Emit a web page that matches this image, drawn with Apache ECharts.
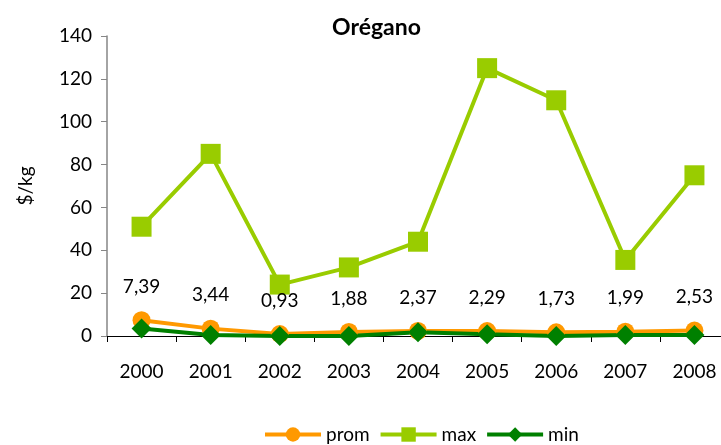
<!DOCTYPE html>
<html>
<head>
<meta charset="utf-8">
<script src="https://cdn.jsdelivr.net/npm/echarts@6/dist/echarts.min.js"></script>
<style>
  html, body { margin: 0; padding: 0; background: #fff; }
  #chart { width: 721px; height: 445px; }
</style>
</head>
<body>
<div id="chart"></div>
<script>
var years = ['2000', '2001', '2002', '2003', '2004', '2005', '2006', '2007', '2008'];
var prom = [7.39, 3.44, 0.93, 1.88, 2.37, 2.29, 1.73, 1.99, 2.53];
var max = [51, 85, 24, 32, 44, 125, 110, 35.5, 75];
var min = [3.5, 0.5, 0, 0, 1.8, 0.8, 0, 0.5, 0.5];

var font = 'Lato, "Open Sans", sans-serif';

var option = {
    animation: false,
    textStyle: {fontFamily: font},
    title: {
        text: 'Orégano',
        left: 327,
        top: 11,
        textStyle: {fontSize: 23, fontWeight: 'bold', color: '#000', fontFamily: font}
    },
    legend: {
        top: 420,
        left: 258,
        itemWidth: 56,
        itemHeight: 18,
        itemGap: 9,
        lineStyle: {width: 4},
        textStyle: {fontSize: 19, color: '#000', fontFamily: font},
        data: ['prom', 'max', 'min']
    },
    grid: {left: 107, right: -8, top: 36, bottom: 109, outerBoundsMode: 'none'},
    xAxis: {
        type: 'category',
        data: years,
        boundaryGap: true,
        axisLine: {lineStyle: {color: '#000', width: 1}},
        axisTick: {show: true, length: 6, lineStyle: {color: '#000'}},
        axisLabel: {fontSize: 19, color: '#000', margin: 26}
    },
    yAxis: {
        type: 'value',
        min: 0,
        max: 140,
        interval: 20,
        name: '$/kg',
        nameLocation: 'middle',
        nameGap: 72,
        nameTextStyle: {fontSize: 19, color: '#000', fontFamily: font},
        axisLine: {show: true, lineStyle: {color: '#868686', width: 1.5}},
        axisTick: {show: true, length: 6, lineStyle: {color: '#868686'}},
        axisLabel: {fontSize: 19, color: '#000', margin: 15},
        splitLine: {show: false}
    },
    series: [{
        name: 'prom',
        type: 'line',
        data: prom,
        symbol: 'circle',
        symbolSize: 18,
        itemStyle: {color: '#FF9900'},
        lineStyle: {color: '#FF9900', width: 4},
        label: {
            show: true,
            position: 'top',
            distance: 15,
            fontSize: 19,
            color: '#000',
            fontFamily: font,
            formatter: function (p) {
                return p.value.toFixed(2).replace('.', ',');
            }
        }
    }, {
        name: 'max',
        type: 'line',
        data: max,
        symbol: 'rect',
        symbolSize: 20,
        itemStyle: {color: '#99CC00'},
        lineStyle: {color: '#99CC00', width: 4}
    }, {
        name: 'min',
        type: 'line',
        data: min,
        symbol: 'diamond',
        symbolSize: 20,
        itemStyle: {color: '#008000'},
        lineStyle: {color: '#008000', width: 4}
    }]
};

var chart = echarts.init(document.getElementById('chart'));
chart.setOption(option);
</script>
</body>
</html>
